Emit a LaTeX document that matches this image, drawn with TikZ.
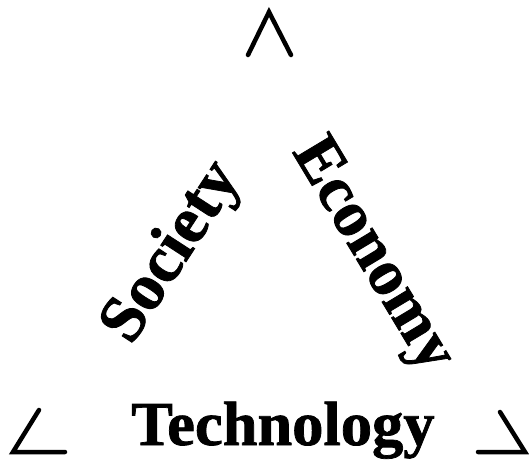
\documentclass[tikz,border=0pt]{standalone}
\usepackage{fontspec}
\setmainfont{Liberation Serif}
\newfontfamily\heavyfont{Liberation Serif Bold}[FakeBold=1.2]
\begin{document}
\begin{tikzpicture}[x=1pt,y=1pt,
  cornermark/.style={line width=4.5pt,line cap=round,line join=miter},
  word/.style={inner sep=0pt,font=\heavyfont}]
\useasboundingbox (0,0) rectangle (529,466);
% corner marks
\coordinate (tl) at (248,411);
\coordinate (ta) at (269,454);
\coordinate (tr) at (291,411);
\coordinate (lt) at (39,56);
\coordinate (lc) at (13,14);
\coordinate (le) at (65,14);
\coordinate (rt) at (500,54);
\coordinate (rc) at (525,14);
\coordinate (re) at (478,14);
\draw[cornermark] (tl) -- (ta) -- (tr);
\draw[cornermark] (lt) -- (lc) -- (le);
\draw[cornermark] (rt) -- (rc) -- (re);
% words
\node[word,anchor=base west] (tech) at (131,21) {\fontsize{62.5}{64}\selectfont Technology};
\node[word,rotate=57] (soc) at (173,213) {\fontsize{66}{68}\selectfont Society};
\node[word,rotate=-59] (eco) at (371,210) {\fontsize{65}{67}\selectfont Economy};
\end{tikzpicture}
\end{document}
